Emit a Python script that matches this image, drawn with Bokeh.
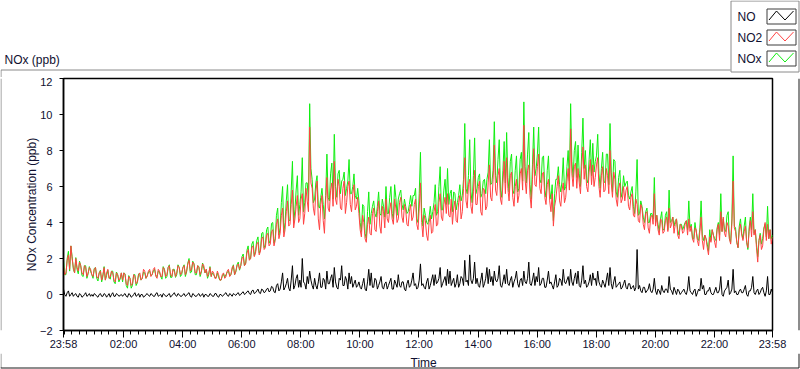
from bokeh.plotting import figure
from bokeh.layouts import column, row
from bokeh.models import Range1d, FixedTicker
from bokeh.core.properties import value
from bokeh.embed import file_html
from bokeh.resources import INLINE

# ---------------- data ----------------
# main readings every 5 minutes, plus the reading half-way between each pair
sample_minutes = 2.5
series_names = ["NO", "NO2", "NOx"]
series_colors = ["#000000", "#ff4242", "#10ee10"]

no2_ppb = [
    1.6, 1.2, 2.2, 2.7, 1.5, 2.0, 1.3, 1.6, 1.1, 1.5, 1.2, 1.4,
    1.0, 1.5, 0.9, 1.3, 1.1, 0.8, 1.4, 1.0, 1.2, 0.7, 1.1, 0.9,
    0.8, 1.1, 0.5, 0.9, 0.6, 1.0, 0.7, 1.2, 0.9, 1.3, 1.0, 1.4,
    1.1, 1.5, 0.9, 1.3, 1.0, 1.4, 1.1, 1.6, 1.0, 1.3, 1.2, 1.5,
    1.2, 1.6, 1.3, 1.9, 1.4, 1.7, 1.2, 1.5, 1.3, 1.6, 1.4, 1.2,
    1.0, 1.2, 0.9, 1.1, 0.8, 1.2, 1.0, 1.4, 1.1, 1.6, 1.3, 1.7,
    1.6, 2.1, 1.7, 2.5, 2.0, 2.7, 2.3, 2.9, 2.4, 3.2, 2.6, 3.4,
    2.8, 3.6, 3.0, 4.2, 3.4, 4.8, 3.6, 5.2, 3.9, 5.8, 4.2, 5.5,
    4.2, 5.6, 4.5, 5.2, 9.3, 5.9, 4.4, 6.3, 3.6, 5.5, 3.4, 6.5,
    4.6, 6.2, 7.4, 5.0, 6.0, 4.7, 6.3, 5.1, 6.3, 4.6, 6.1, 4.9,
    4.5, 3.2, 4.0, 2.9, 4.3, 3.3, 4.8, 3.5, 5.2, 3.4, 4.6, 5.3,
    4.0, 5.1, 3.9, 4.8, 4.2, 5.4, 4.0, 4.7, 3.8, 5.0, 4.3, 5.3,
    3.6, 6.2, 3.2, 4.1, 3.0, 4.4, 3.5, 5.0, 3.9, 5.6, 4.1, 5.4,
    5.6, 4.3, 3.9, 5.2, 4.0, 5.5, 4.6, 7.6, 4.8, 6.4, 4.5, 6.9,
    5.0, 6.3, 4.4, 5.8, 4.9, 7.2, 5.2, 8.3, 5.5, 7.0, 5.0, 7.4,
    7.6, 5.2, 6.8, 4.9, 6.4, 5.5, 7.0, 9.4, 5.6, 7.2, 4.8, 8.1,
    6.0, 7.8, 5.6, 6.8, 5.0, 6.4, 4.6, 3.8, 5.3, 6.6, 4.9, 6.2,
    5.4, 7.0, 9.2, 6.0, 7.3, 7.0, 5.6, 8.2, 7.2, 5.7, 7.5, 7.2,
    6.5, 7.6, 5.4, 7.1, 5.8, 6.6, 8.0, 5.4, 6.4, 4.9, 6.2, 5.3,
    5.2, 6.0, 4.7, 5.6, 4.3, 5.0, 4.0, 4.8, 3.6, 4.6, 3.4, 4.4,
    5.6, 4.4, 3.3, 4.1, 3.5, 4.3, 4.8, 3.9, 3.4, 4.2, 3.1, 3.8,
    3.5, 4.1, 4.2, 3.8, 2.9, 3.6, 2.7, 4.3, 2.5, 3.1, 2.2, 2.9,
    3.3, 2.6, 3.9, 4.6, 4.3, 3.2, 3.8, 2.8, 6.3, 3.5, 2.6, 3.9,
    3.0, 3.8, 2.6, 4.1, 4.6, 3.6, 1.8, 3.3, 2.7, 4.0, 3.9, 3.6,
    3.2,
]

no2_mid_ppb = [
    1.1, 1.9, 1.4, 2.0, 1.2, 1.5, 1.8, 1.2, 1.6, 1.0, 1.5, 1.1,
    1.4, 1.0, 1.2, 0.8, 1.5, 1.2, 0.9, 1.3, 0.8, 1.2, 0.8, 1.2,
    1.2, 0.6, 1.0, 0.5, 1.1, 0.6, 1.1, 0.8, 1.4, 0.9, 1.3, 1.0,
    1.4, 1.0, 1.4, 1.0, 1.5, 1.0, 1.5, 1.1, 1.4, 1.0, 1.6, 1.1,
    1.5, 1.1, 1.7, 1.3, 1.8, 1.2, 1.6, 1.1, 1.7, 1.2, 1.0, 1.5,
    1.3, 0.9, 1.3, 0.8, 1.1, 0.9, 1.3, 1.0, 1.5, 1.1, 1.6, 1.4,
    2.0, 1.6, 2.3, 1.9, 2.6, 2.1, 2.8, 2.2, 3.1, 2.5, 3.3, 2.7,
    3.5, 2.7, 3.9, 3.1, 4.4, 3.2, 4.6, 3.8, 5.0, 3.7, 4.9, 4.0,
    5.3, 3.9, 5.9, 4.6, 6.2, 4.8, 5.7, 4.2, 5.0, 4.1, 5.2, 4.8,
    5.8, 4.9, 5.3, 6.4, 4.8, 5.9, 4.5, 6.0, 5.0, 5.6, 4.7, 5.4,
    3.6, 4.4, 3.1, 3.9, 3.4, 4.5, 3.6, 4.6, 3.8, 4.9, 3.7, 4.2,
    4.7, 4.2, 5.3, 4.0, 5.1, 4.3, 5.0, 3.9, 4.6, 4.1, 5.0, 3.9,
    4.8, 4.0, 4.4, 3.3, 4.0, 3.4, 4.6, 3.8, 5.1, 4.3, 5.0, 4.5,
    4.4, 5.3, 4.8, 4.1, 5.1, 4.2, 5.9, 5.2, 6.1, 4.9, 5.7, 5.0,
    6.0, 4.6, 5.9, 4.7, 6.2, 5.4, 6.4, 5.8, 6.6, 5.3, 6.2, 5.6,
    5.9, 6.6, 5.4, 6.0, 5.1, 6.7, 5.8, 6.4, 6.9, 5.5, 6.4, 6.1,
    7.1, 5.9, 6.7, 5.4, 6.1, 5.2, 5.6, 4.9, 6.0, 5.2, 5.8, 5.1,
    6.3, 5.8, 6.7, 7.1, 5.9, 6.2, 7.1, 6.4, 6.0, 6.8, 6.1, 6.0,
    7.2, 6.0, 6.6, 5.7, 7.0, 5.6, 6.2, 6.8, 5.3, 5.9, 5.1, 6.0,
    5.8, 4.9, 5.4, 4.4, 5.3, 4.1, 5.0, 3.9, 4.5, 3.7, 4.3, 3.9,
    3.8, 3.6, 4.2, 3.4, 4.1, 3.5, 3.7, 4.3, 3.9, 3.3, 3.9, 3.4,
    3.9, 3.3, 3.5, 3.1, 3.7, 3.0, 3.5, 3.0, 3.3, 2.6, 3.2, 3.6,
    2.9, 3.6, 3.0, 3.5, 3.4, 4.0, 3.1, 3.9, 3.7, 2.9, 3.6, 3.3,
    3.5, 2.9, 3.5, 3.2, 3.3, 2.6, 3.0, 2.5, 3.6, 3.0, 3.1, 2.8,
]

no_ppb = [
    0.3, -0.1, 0.2, 0.0, -0.1, 0.05, -0.15, 0.0, -0.1, 0.1, -0.05, -0.1,
    -0.1, 0.0, -0.15, 0.05, -0.1, 0.0, -0.05, -0.15, 0.1, -0.1, 0.0, -0.05,
    -0.1, 0.05, -0.15, 0.0, -0.1, 0.1, -0.05, -0.15, 0.0, -0.1, 0.05, -0.1,
    0.0, -0.1, 0.1, -0.05, -0.15, 0.0, -0.1, 0.05, -0.05, 0.1, -0.1, 0.0,
    -0.1, 0.05, -0.05, 0.1, -0.15, 0.0, -0.1, 0.05, -0.05, -0.15, 0.0, -0.1,
    0.0, -0.1, 0.05, -0.15, 0.0, -0.05, 0.1, -0.1, 0.0, 0.05, -0.05, 0.1,
    0.0, 0.15, 0.05, 0.2, 0.0, 0.25, 0.1, 0.3, 0.05, 0.25, 0.15, 0.35,
    0.2, 0.4, 0.1, 0.6, 0.3, 1.2, 0.4, 0.9, 0.2, 1.6, 0.5, 1.1,
    0.8, 2.0, 0.6, 1.0, 1.3, 0.5, 0.9, 0.3, 1.2, 0.4, 0.8, 1.3,
    0.6, 1.1, 1.5, 0.4, 0.9, 1.6, 0.5, 0.8, 1.2, 1.0, 0.6, 0.4,
    0.7, 0.3, 0.9, 0.2, 1.4, 1.2, 0.4, 0.8, 0.5, 1.0, 0.3, 0.7,
    0.5, 0.9, 0.3, 0.6, 1.1, 0.4, 0.7, 0.2, 0.8, 0.5, 1.2, 0.6,
    0.4, 1.7, 0.6, 0.3, 0.9, 0.5, 1.1, 1.1, 0.7, 1.5, 0.6, 1.0,
    1.4, 1.3, 0.7, 0.4, 1.1, 0.6, 0.9, 1.9, 0.8, 2.2, 0.6, 1.8,
    0.9, 0.4, 1.2, 0.6, 1.5, 1.4, 1.0, 1.3, 0.7, 1.6, 0.4, 1.1,
    1.4, 0.5, 1.0, 0.7, 1.3, 0.4, 0.9, 1.3, 0.6, 1.8, 0.5, 1.2,
    1.0, 1.5, 0.6, 0.9, 0.4, 1.3, 0.7, 0.3, 1.1, 0.5, 0.8, 1.4,
    0.6, 1.0, 1.4, 0.5, 1.2, 1.3, 0.4, 1.6, 0.8, 0.5, 1.1, 1.2,
    0.9, 1.3, 0.5, 0.8, 0.4, 1.2, 1.5, 0.3, 1.0, 0.5, 0.7, 0.4,
    0.8, 0.3, 0.6, 0.4, 0.2, 2.5, 0.5, 0.1, 0.4, 0.2, 0.6, 0.1,
    0.9, 0.0, 0.2, 0.5, 0.1, 0.3, 1.0, 0.2, 0.4, 0.0, 0.2, 0.1,
    0.3, 0.0, 1.0, 0.1, 0.2, -0.1, 0.3, 0.9, 0.5, 0.0, 0.2, 0.1,
    0.0, 0.4, 0.1, 1.0, -0.1, 0.3, 0.8, 0.1, 1.4, 0.2, 0.0, 0.3,
    0.1, 0.5, -0.1, 0.2, 1.0, 0.0, 0.3, 0.1, 0.4, -0.1, 1.0, 0.0,
    0.1,
]

no_mid_ppb = [
    0.0, 0.1, -0.1, 0.1, 0.0, -0.1, 0.05, -0.15, 0.0, -0.1, 0.05, 0.0,
    0.05, -0.1, 0.0, -0.1, 0.05, -0.15, 0.05, 0.0, -0.1, 0.05, -0.1, 0.0,
    0.0, -0.1, 0.05, -0.15, 0.0, -0.1, 0.05, 0.0, -0.15, 0.0, -0.05, 0.05,
    -0.1, 0.05, -0.1, 0.0, 0.05, -0.1, 0.0, -0.15, 0.0, -0.05, 0.05, -0.1,
    0.0, -0.1, 0.05, -0.1, 0.05, -0.1, 0.0, -0.1, 0.05, 0.0, -0.1, 0.05,
    -0.1, 0.05, -0.1, 0.0, -0.1, 0.05, -0.05, 0.05, -0.1, 0.0, 0.05, -0.05,
    0.1, 0.0, 0.15, 0.05, 0.2, 0.05, 0.2, 0.1, 0.3, 0.1, 0.3, 0.15,
    0.45, 0.15, 0.5, 0.2, 0.7, 0.25, 0.6, 0.35, 0.8, 0.3, 0.9, 0.4,
    0.4, 0.7, 0.3, 0.6, 0.8, 0.3, 0.5, 0.7, 0.4, 0.9, 0.3, 0.6,
    0.9, 0.4, 0.7, 0.3, 0.8, 0.5, 1.0, 0.3, 0.6, 0.4, 0.8, 0.5,
    0.4, 0.6, 0.3, 0.7, 0.5, 0.4, 0.9, 0.3, 0.7, 0.4, 0.6, 0.3,
    0.7, 0.3, 0.8, 0.4, 0.5, 0.7, 0.3, 0.6, 0.4, 0.8, 0.5, 0.3,
    0.8, 0.5, 0.4, 0.7, 0.3, 0.8, 0.5, 0.6, 0.9, 0.4, 0.8, 0.5,
    0.6, 0.5, 0.9, 0.6, 0.4, 1.0, 0.5, 0.7, 0.5, 0.8, 0.9, 0.6,
    0.5, 0.8, 0.4, 0.9, 0.6, 0.7, 0.5, 0.8, 0.9, 0.5, 0.7, 0.6,
    0.6, 0.8, 0.4, 0.9, 0.6, 0.8, 0.5, 0.7, 0.9, 0.6, 0.8, 0.5,
    0.7, 0.5, 0.9, 0.4, 0.8, 0.6, 0.5, 0.7, 0.4, 0.9, 0.5, 0.7,
    0.8, 0.5, 0.7, 0.9, 0.6, 0.5, 0.8, 0.6, 0.4, 0.7, 0.5, 0.8,
    0.5, 0.7, 0.4, 0.6, 0.8, 0.5, 0.6, 0.7, 0.4, 0.6, 0.3, 0.6,
    0.4, 0.6, 0.3, 0.5, 0.4, 0.3, 0.2, 0.4, 0.1, 0.3, 0.2, 0.3,
    0.2, 0.3, 0.0, 0.2, 0.3, 0.1, 0.3, 0.0, 0.2, 0.3, 0.0, 0.2,
    0.1, 0.3, 0.2, 0.0, 0.3, 0.1, 0.2, 0.3, 0.0, 0.2, 0.4, 0.0,
    0.2, 0.1, 0.3, 0.0, 0.2, 0.4, 0.0, 0.3, 0.1, 0.0, 0.2, 0.1,
    0.3, 0.0, 0.2, 0.4, 0.1, 0.2, 0.0, 0.3, 0.1, 0.2, 0.0, 0.3,
]


def interleave(main, mid):
    out = []
    for a, b in zip(main, mid):
        out += [a, b]
    out.append(main[-1])
    return out


no2_series = interleave(no2_ppb, no2_mid_ppb)
no_series = interleave(no_ppb, no_mid_ppb)
# NOx is by definition NO + NO2
nox_series = [round(a + b, 2) for a, b in zip(no_series, no2_series)]
minutes = [i * sample_minutes for i in range(len(no2_series))]  # minutes since 23:58

x_tick_minutes = [0, 122, 242, 362, 482, 602, 722, 842, 962, 1082, 1202, 1322, 1440]
x_tick_labels = ["23:58", "02:00", "04:00", "06:00", "08:00", "10:00", "12:00",
                 "14:00", "16:00", "18:00", "20:00", "22:00", "23:58"]
y_ticks = [-2, 0, 2, 4, 6, 8, 10, 12]

FONT = "Liberation Sans"
TXT = "#101030"
GRAY = "#8a8a8a"
DARK = "#1a1a1a"
TXT_SHIFT = 4  # glyph text is drawn a little low; compensate


def blank(w, h, x0, x1, y0, y1):
    f = figure(width=w, height=h, output_backend="svg", toolbar_location=None,
               x_range=Range1d(x0, x1), y_range=Range1d(y0, y1),
               x_axis_type=None, y_axis_type=None,
               min_border_left=0, min_border_right=0, min_border_top=0, min_border_bottom=0)
    f.grid.visible = False
    f.outline_line_color = None
    f.background_fill_color = "white"
    f.border_fill_color = "white"
    return f


# ---------------- top strip: title, legend, frame top ----------------
top = blank(800, 77, 0, 800, 77, 0)
top.text(x=[4], y=[63 - TXT_SHIFT], text=["NOx (ppb)"], text_font=value(FONT), text_font_size=value("12px"),
         text_color=TXT, text_baseline="alphabetic", text_align="left")
top.line([730, 0.5, 0.5], [69.5, 69.5, 77], line_color=GRAY, line_width=1)
top.line([730.5, 798.5, 798.5, 730.5, 730.5], [0.5, 0.5, 71.5, 71.5, 0.5], line_color=GRAY, line_width=1)
box_tops = [8.5, 29.5, 50.5]
for name, col, bt in zip(series_names, series_colors, box_tops):
    top.text(x=[737], y=[bt + 8.5 - TXT_SHIFT + 3], text=[name], text_font=value(FONT),
             text_font_size=value("12px"), text_color=TXT, text_baseline="alphabetic", text_align="left")
    bx0, bx1, by0, by1 = 766.5, 795.5, bt, bt + 15
    top.line([bx0, bx1, bx1, bx0, bx0], [by0, by0, by1, by1, by0], line_color="#3c3c3c", line_width=1)
    top.line([bx0 + 2, bx0 + 9.5, bx0 + 18, bx1 - 2.5], [by1 - 4, by0 + 2, by1 - 4, by0 + 2],
             line_color=col, line_width=1)

# ---------------- side strips ----------------
left_strip = blank(2, 276, 0, 2, 353, 77)
left_strip.line([0.5, 0.5], [77, 353], line_color=GRAY, line_width=1)
right_strip = blank(3, 276, 797, 800, 353, 77)
right_strip.line([798.5, 798.5], [77, 353], line_color=DARK, line_width=1)

# ---------------- main chart ----------------
p = figure(width=795, height=276, output_backend="svg", toolbar_location=None,
           x_range=Range1d(0, 1440), y_range=Range1d(-2, 12),
           min_border_left=61, min_border_right=25, min_border_top=1, min_border_bottom=23)
p.grid.visible = False
p.background_fill_color = "white"
p.border_fill_color = "white"
p.outline_line_color = "black"
p.outline_line_width = 1.5

for ax in (p.xaxis[0], p.yaxis[0]):
    ax.axis_line_color = "black"
    ax.axis_line_width = 1.5
    ax.major_tick_line_color = "black"
    ax.minor_tick_line_color = "black"
    ax.major_tick_in = 0
    ax.minor_tick_in = 0
    ax.major_label_text_font = FONT
    ax.major_label_text_font_size = "11px"
    ax.major_label_text_color = TXT

p.yaxis.ticker = FixedTicker(ticks=y_ticks)
p.yaxis.major_tick_out = 4
p.yaxis.minor_tick_out = 0
p.yaxis.minor_tick_line_color = None
p.yaxis.major_label_standoff = 7
p.yaxis.axis_label = "NOx Concentration (ppb)"
p.yaxis.axis_label_text_font = FONT
p.yaxis.axis_label_text_font_size = "12px"
p.yaxis.axis_label_text_font_style = "normal"
p.yaxis.axis_label_text_color = TXT
p.yaxis.axis_label_standoff = -2

minor = [2 + 15 * n for n in range(96)]
p.xaxis.ticker = FixedTicker(ticks=x_tick_minutes, minor_ticks=minor)
p.xaxis.major_label_overrides = {t: s for t, s in zip(x_tick_minutes, x_tick_labels)}
p.xaxis.major_tick_out = 7
p.xaxis.minor_tick_out = 4
p.xaxis.major_label_standoff = 0

p.line(minutes, nox_series, line_color=series_colors[2], line_width=1)
p.line(minutes, no2_series, line_color=series_colors[1], line_width=1)
p.line(minutes, no_series, line_color=series_colors[0], line_width=1)

# ---------------- bottom strip: x axis title, frame bottom ----------------
bottom = blank(800, 16, 0, 800, 369, 353)
bottom.text(x=[410], y=[366 - TXT_SHIFT], text=["Time"], text_font=value(FONT), text_font_size=value("12px"),
            text_color=TXT, text_baseline="alphabetic", text_align="left")
bottom.line([0.5, 0.5], [353, 367.5], line_color=GRAY, line_width=1)
bottom.line([0, 798.5, 798.5], [367.5, 367.5, 353], line_color=DARK, line_width=1)

layout = column(top, row(left_strip, p, right_strip), bottom)
open("out.html", "w").write(file_html(layout, INLINE))
